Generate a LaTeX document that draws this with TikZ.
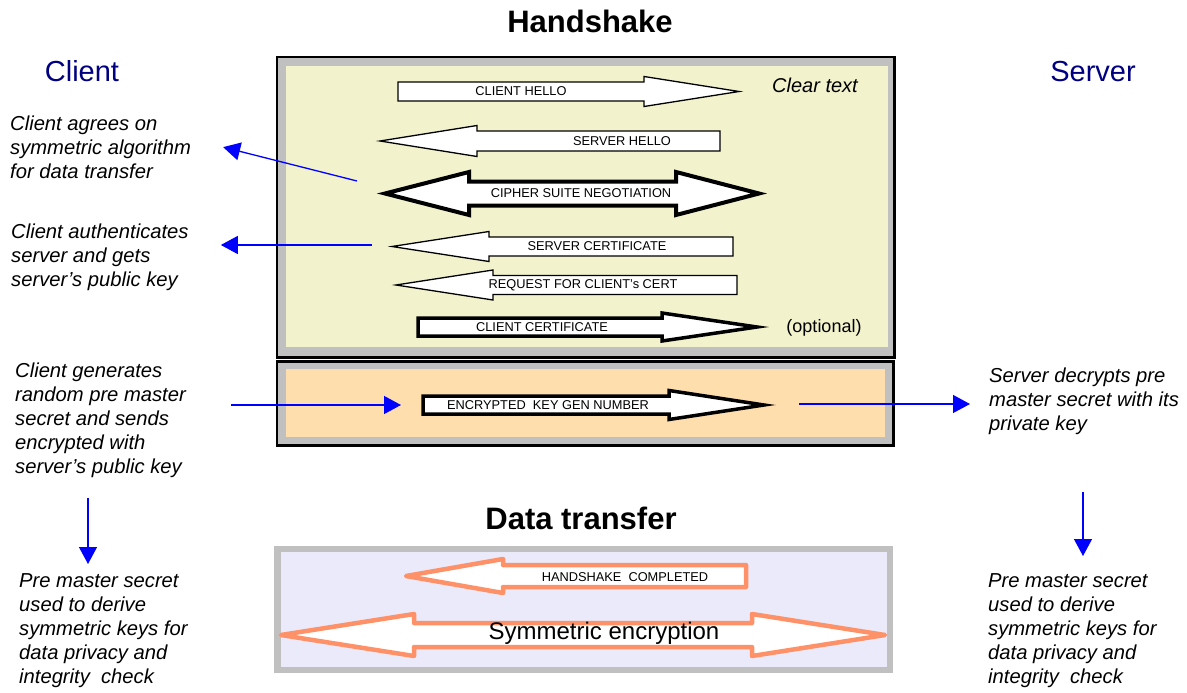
\documentclass[tikz,border=0pt]{standalone}
\usepackage{fontspec}
\setmainfont{Liberation Sans}
\usepackage{xcolor}
\usepackage{tikz}
\usetikzlibrary{arrows.meta, positioning, calc}

\definecolor{clearbg}{RGB}{242,242,204}
\definecolor{keybg}{RGB}{255,222,173}
\definecolor{databg}{RGB}{234,234,250}
\definecolor{framegray}{RGB}{192,192,192}
\definecolor{salmon}{RGB}{255,145,105}
\definecolor{navy}{RGB}{0,0,128}

% block arrows: style, x values, centre y, half shaft, half head
\newcommand{\rblock}[7]{\draw[#1] (#2,#5-#6) -- (#3,#5-#6) -- (#3,#5-#7) -- (#4,#5) -- (#3,#5+#7) -- (#3,#5+#6) -- (#2,#5+#6) -- cycle;}
\newcommand{\lblock}[7]{\draw[#1] (#2,#5) -- (#3,#5-#7) -- (#3,#5-#6) -- (#4,#5-#6) -- (#4,#5+#6) -- (#3,#5+#6) -- (#3,#5+#7) -- cycle;}
\newcommand{\dblock}[8]{\draw[#1] (#2,#6) -- (#3,#6-#8) -- (#3,#6-#7) -- (#4,#6-#7) -- (#4,#6-#8) -- (#5,#6) -- (#4,#6+#8) -- (#4,#6+#7) -- (#3,#6+#7) -- (#3,#6+#8) -- cycle;}

\tikzset{
    boxframe/.style={draw=black, line width=2.5pt, fill=framegray},
    msg/.style={draw=black, fill=white, line width=1.3pt, line join=miter},
    msgbold/.style={msg, line width=3.5pt},
    datamsg/.style={draw=salmon, fill=white, line width=4.5pt, line join=round},
    msglabel/.style={font=\fontsize{12.8}{15}\selectfont, inner sep=0pt},
    note/.style={font=\fontsize{20.2}{24}\selectfont\itshape, align=left, anchor=north west, inner sep=0pt},
    sidelabel/.style={font=\fontsize{29}{33}\selectfont, text=navy},
    heading/.style={font=\fontsize{31}{35}\selectfont\bfseries},
    pointer/.style={draw=blue, line width=1.3pt, -{Triangle[length=17pt,width=18pt]}}
}

\begin{document}
\begin{tikzpicture}[x=1pt, y=-1pt]
    \useasboundingbox (0,0) rectangle (1187,693);

    \node[heading] (handshake) at (590,21) {Handshake};
    \node[heading] (datatransfer) at (581,518) {Data transfer};
    \node[sidelabel] (client) at (82,71) {Client};
    \node[sidelabel] (server) at (1093,72) {Server};

    % frames
    \draw[boxframe] (277,57) rectangle (894.5,357.5);
    \fill[clearbg] (286,66) rectangle (888,347);
    \draw[boxframe] (277,361.5) rectangle (893.5,445.5);
    \fill[keybg] (286,369) rectangle (885,437);
    \fill[framegray] (274,546) rectangle (893,673);
    \fill[databg] (281,552) rectangle (887,667);

    % handshake messages
    \rblock{msg}{398}{644}{739}{91.5}{9.5}{15}
    \lblock{msg}{380}{477}{720}{141}{10}{15.5}
    \dblock{msg, line width=4pt}{385}{469}{676}{759}{193.5}{12}{21.5}
    \lblock{msg}{392}{489}{733}{246.5}{9.5}{15}
    \lblock{msg}{396}{493}{737}{285}{9.5}{15}
    \rblock{msgbold}{418}{662}{757}{327}{9}{14}
    \rblock{msgbold}{423}{669}{764}{405}{9}{14.5}
    \lblock{datamsg}{406}{503}{746}{576}{11}{17}
    \dblock{datamsg}{281}{414}{752}{885}{635}{12}{21}

    \node[msglabel] (hello) at (521,91) {CLIENT HELLO};
    \node[msglabel] (srvhello) at (622,141) {SERVER HELLO};
    \node[msglabel] (cipher) at (581,193) {CIPHER SUITE NEGOTIATION};
    \node[msglabel] (srvcert) at (597,246) {SERVER CERTIFICATE};
    \node[msglabel] (request) at (583,285) {REQUEST FOR CLIENT's CERT};
    \node[msglabel] (clcert) at (542,327) {CLIENT CERTIFICATE};
    \node[msglabel] (enclabel) at (548,405) {ENCRYPTED\ \ KEY GEN NUMBER};
    \node[msglabel] (done) at (625,577) {HANDSHAKE\ \ COMPLETED};
    \node[font=\fontsize{24}{28}\selectfont, inner sep=0pt, anchor=base] (symenc) at (604,639) {Symmetric encryption};

    \node[font=\fontsize{20}{24}\selectfont\itshape] (cleartext) at (815,85) {Clear text};
    \node[font=\fontsize{18}{22}\selectfont] (optional) at (824,328) {(optional)};

    % side notes
    \node[note] (agree) at (10,115.5) {Client agrees on\\symmetric algorithm\\for data transfer};
    \node[note] (auth) at (11,223.5) {Client authenticates\\server and gets\\server’s public key};
    \node[note] (gen) at (15,362.5) {Client generates\\random pre master\\secret and sends\\encrypted with\\server’s public key};
    \node[note] (decrypt) at (989,367.5) {Server decrypts pre\\master secret with its\\private key};
    \node[note] (keyscl) at (19,573.5) {Pre master secret\\used to derive\\symmetric keys for\\data privacy and\\integrity\ \ check};
    \node[note] (keyssv) at (988,573.5) {Pre master secret\\used to derive\\symmetric keys for\\data privacy and\\integrity\ \ check};

    % pointers
    \coordinate (agreefrom) at (357,181);
    \coordinate (authfrom) at (372,245);
    \coordinate (encin) at (401,405);
    \coordinate (encout) at (799,404);
    \coordinate (clkeys) at (88,498);
    \coordinate (svkeys) at (1083,492);
    \draw[pointer] (agreefrom) -- ($(agree.east)+(32,0)$);
    \draw[pointer] (authfrom) -- ($(auth.east |- authfrom)+(32,0)$);
    \draw[pointer] ($(gen.east |- encin)+(45,0)$) -- (encin);
    \draw[pointer] (encout) -- ($(decrypt.west |- encout)+(-19,0)$);
    \draw[pointer] (clkeys) -- ($(keyscl.north -| clkeys)+(0,-9.5)$);
    \draw[pointer] (svkeys) -- ($(keyssv.north -| svkeys)+(0,-17.5)$);
\end{tikzpicture}
\end{document}
